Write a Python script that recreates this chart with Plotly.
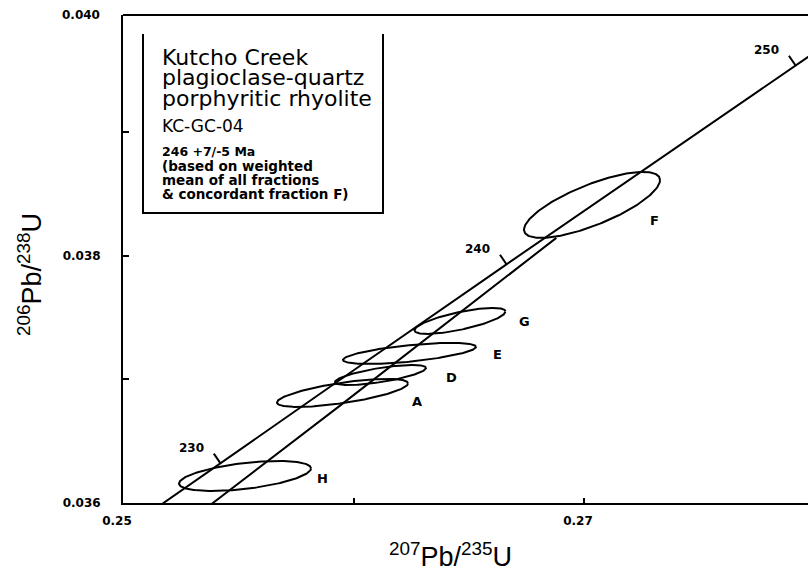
import numpy as np
import plotly.graph_objects as go

# ---------------- data ----------------
# Concordia curve (206Pb/238U vs 207Pb/235U) at ages (Ma)
conc_age = [225, 230, 235, 240, 245, 250, 255]
conc_x = [0.248061, 0.254222, 0.260414, 0.266636, 0.272889, 0.279172, 0.285487]
conc_y = [0.035519, 0.036323, 0.037127, 0.037932, 0.038737, 0.039543, 0.040350]

# Labelled age ticks on concordia
tick_age = [230, 240, 250]
tick_x = [0.254222, 0.266636, 0.279172]
tick_y = [0.036323, 0.037932, 0.039543]

# Second (lower) line
line2_x = [0.2532, 0.2595, 0.2688]
line2_y = [0.03590, 0.03680, 0.038146]

# Error ellipses: centre, half-extent in x and y, correlation
frac = ["H", "A", "D", "E", "G", "F"]
ell_cx = [0.255293, 0.259523, 0.261171, 0.262430, 0.264620, 0.270347]
ell_cy = [0.036219, 0.036891, 0.037036, 0.037211, 0.037474, 0.038413]
ell_dx = [0.002863, 0.002842, 0.001974, 0.002885, 0.001974, 0.002950]
ell_dy = [0.0001215, 0.0001134, 0.0000810, 0.0000850, 0.0001053, 0.000267]
ell_rho = [0.50, 0.68, 0.70, 0.62, 0.72, 0.75]

x_ticks = [0.25, 0.26, 0.27]
x_ticktext = ["0.25", "", "0.27"]
y_ticks = [0.036, 0.037, 0.038, 0.039]
y_ticktext = ["0.036", "", "0.038", ""]

legend_lines = [
    ("Kutcho Creek", 22, "normal"),
    ("plagioclase-quartz", 22, "normal"),
    ("porphyritic rhyolite", 22, "normal"),
    ("KC-GC-04", 17, "normal"),
    ("246 +7/-5 Ma", 12.5, "bold"),
    ("(based on weighted", 13.5, "bold"),
    ("mean of all fractions", 13.5, "bold"),
    ("& concordant fraction F)", 13.5, "bold"),
]

# ---------------- layout constants ----------------
W, H = 808, 583
L, R, T, B = 123, 0, 15, 80
PW, PH = W - L - R, H - T - B


def px(xp):
    return (xp - L) / PW


def py(yp):
    return (T + PH - yp) / PH


BOLD = "DejaVu Sans"
fig = go.Figure()

# concordia
fig.add_trace(go.Scatter(x=conc_x, y=conc_y, mode="lines",
                         line=dict(color="black", width=2), hoverinfo="skip"))
# second line
fig.add_trace(go.Scatter(x=line2_x, y=line2_y, mode="lines",
                         line=dict(color="black", width=2), hoverinfo="skip"))

# ellipses
th = np.linspace(0, 2 * np.pi, 200)
for cx, cy, dx, dy, r in zip(ell_cx, ell_cy, ell_dx, ell_dy, ell_rho):
    ex = cx + dx * np.cos(th)
    ey = cy + dy * (r * np.cos(th) + np.sqrt(1 - r * r) * np.sin(th))
    fig.add_trace(go.Scatter(x=ex, y=ey, mode="lines",
                             line=dict(color="black", width=2), hoverinfo="skip"))

annotations = []
shapes = []

# ellipse labels (pixel offsets from right end of ellipse)
lab_off = {"H": (11, -3), "A": (9, -9), "D": (26, -2), "E": (21, -1.5),
           "G": (19, -1), "F": (-6, -16)}
for f, cx, cy, dx in zip(frac, ell_cx, ell_cy, ell_dx):
    ox, oy = lab_off[f]
    annotations.append(dict(x=cx + dx, y=cy, xref="x", yref="y", text=f,
                            showarrow=False, xshift=ox, yshift=oy,
                            font=dict(family=BOLD, size=13, color="black", weight="bold")))

# age ticks and labels
for a, tx, ty in zip(tick_age, tick_x, tick_y):
    shapes.append(dict(type="line", xref="x", yref="y",
                       xsizemode="pixel", ysizemode="pixel",
                       xanchor=tx, yanchor=ty, x0=0, x1=-6.5, y0=0, y1=9.5,
                       line=dict(color="black", width=2)))
    annotations.append(dict(x=tx, y=ty, xref="x", yref="y", text=str(a),
                            showarrow=False, xshift=-29, yshift=15,
                            font=dict(family=BOLD, size=12, color="black", weight="bold")))

# top border
shapes.append(dict(type="line", xref="paper", yref="paper", x0=0, x1=1, y0=1, y1=1,
                   line=dict(color="black", width=2)))

# legend box (open top)
xl, xr, yt, yb = px(143), px(383), py(34), py(213)
shapes.append(dict(type="path", xref="paper", yref="paper",
                   path=f"M {xl},{yt} L {xl},{yb} L {xr},{yb} L {xr},{yt}",
                   line=dict(color="black", width=2)))

legend_y = [57, 78, 99, 126, 151, 166, 180, 194]
for (txt, sz, wt), yy in zip(legend_lines, legend_y):
    annotations.append(dict(x=px(160), y=py(yy), xref="paper", yref="paper",
                            xanchor="left", yanchor="middle", text=txt, showarrow=False,
                            font=dict(family="DejaVu Sans", size=sz, color="black", weight=wt)))

# 0.040 top label
annotations.append(dict(x=px(102), y=1, xref="paper", yref="paper", xanchor="right",
                        yanchor="middle", text="0.040", showarrow=False,
                        font=dict(family=BOLD, size=12, color="black", weight="bold")))

# axis titles
annotations.append(dict(x=px(450), y=py(555), xref="paper", yref="paper",
                        text="<sup>207</sup>Pb/<sup>235</sup>U", showarrow=False,
                        xanchor="center", yanchor="middle",
                        font=dict(family="Liberation Sans", size=27, color="black")))
annotations.append(dict(x=px(30), y=py(275), xref="paper", yref="paper",
                        text="<sup>206</sup>Pb/<sup>238</sup>U", showarrow=False,
                        textangle=-90, xanchor="center", yanchor="middle",
                        font=dict(family="Liberation Sans", size=27, color="black")))

fig.update_layout(
    width=W, height=H,
    margin=dict(l=L, r=R, t=T, b=B, pad=0),
    paper_bgcolor="white", plot_bgcolor="white",
    showlegend=False,
    annotations=annotations, shapes=shapes,
    xaxis=dict(range=[0.25, 0.279718], tickvals=x_ticks, ticktext=x_ticktext,
               ticks="inside", ticklen=5, tickwidth=1.5, tickcolor="black",
               showline=True, linecolor="black", linewidth=2,
               showgrid=False, zeroline=False, ticklabelstandoff=6, ticklabelshift=-6,
               tickfont=dict(family=BOLD, size=12, color="black", weight="bold")),
    yaxis=dict(range=[0.036, 0.03995], tickvals=y_ticks, ticktext=y_ticktext,
               ticks="inside", ticklen=6, tickwidth=1.5, tickcolor="black",
               showline=True, linecolor="black", linewidth=2,
               showgrid=False, zeroline=False, ticklabelstandoff=18,
               tickfont=dict(family=BOLD, size=12, color="black", weight="bold")),
)

fig.write_html("out.html")
